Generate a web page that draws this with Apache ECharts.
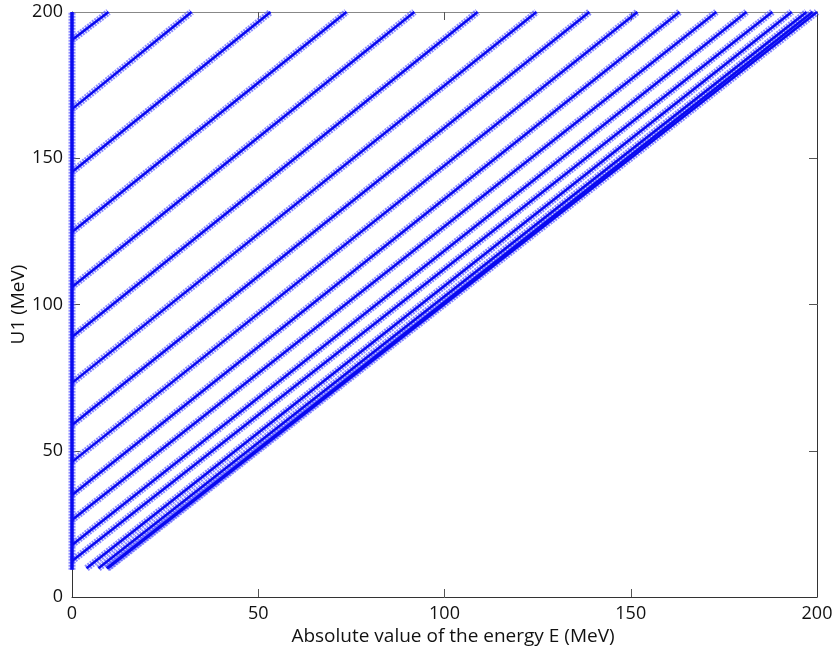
<!DOCTYPE html>
<html>
<head>
<meta charset="utf-8">
<script src="https://cdn.jsdelivr.net/npm/echarts@6/dist/echarts.min.js"></script>
<style>
  html, body { margin: 0; padding: 0; background: #fff; }
  #chart { width: 838px; height: 653px; }
</style>
</head>
<body>
<div id="chart"></div>
<script>
// Solution branches: each branch runs from a start point (E, U1) to an end point.
const startE = [0, 0, 0, 0, 0, 0, 0, 0, 0, 0, 0, 0, 0, 3.9, 7.1, 9.3, 9.6];
const startU = [190.4, 166.8, 145.3, 124.8, 106.0, 88.9, 73.2, 58.8, 46.2, 34.9, 26.3, 17.8, 12.3, 9.8, 9.8, 9.8, 9.8];
const endE = [9.8, 32.1, 53.3, 73.7, 91.9, 108.9, 124.7, 138.9, 151.8, 163.1, 173.0, 181.1, 188.0, 193.2, 197.2, 198.8, 200];
const endU = [200, 200, 200, 200, 200, 200, 200, 200, 200, 200, 200, 200, 200, 200, 200, 200, 200];

// Solutions piled up along E = 0
const zeroBranchU = [9.3, 200];

// Axis ticks
const xTicks = [0, 50, 100, 150, 200];
const yTicks = [0, 50, 100, 150, 200];

const haloColor = 'rgba(90,90,255,0.7)';
const coreColor = '#0a0af0';

const series = [];
function addBranch(points, haloWidth, coreWidth) {
  series.push({
    type: 'line', data: points, showSymbol: false, silent: true, animation: false,
    lineStyle: { color: haloColor, width: haloWidth, type: [2, 1] }, z: 2
  });
  series.push({
    type: 'line', data: points, showSymbol: false, silent: true, animation: false,
    lineStyle: { color: coreColor, width: coreWidth }, z: 3
  });
}
for (let i = 0; i < startE.length; i++) {
  addBranch([[startE[i], startU[i]], [endE[i], endU[i]]], 7, 2.5);
}
addBranch(zeroBranchU.map(u => [0, u]), 7, 3.5);

const font = '"Open Sans", "Noto Sans", sans-serif';
const chart = echarts.init(document.getElementById('chart'));
chart.setOption({
  backgroundColor: '#fff',
  animation: false,
  grid: { left: 72, right: 21, top: 12, bottom: 56, containLabel: false, outerBoundsMode: 'none' },
  xAxis: [{
    type: 'value', min: 0, max: 200, interval: 50,
    name: 'Absolute value of the energy E (MeV)', nameLocation: 'middle', nameGap: 30,
    nameMoveOverlap: false,
    nameTextStyle: { fontFamily: font, fontSize: 19, color: '#111', padding: [0, 0, 0, 17] },
    axisLine: { show: true, onZero: false, lineStyle: { color: '#333', width: 1 } },
    axisTick: { show: true, inside: true, length: 8, lineStyle: { color: '#555' },
      customValues: xTicks.slice(1, -1) },
    axisLabel: { fontFamily: font, fontSize: 18, color: '#111', margin: 8,
      customValues: xTicks },
    splitLine: { show: false }
  }, {
    type: 'value', position: 'top', min: 0, max: 200, interval: 50,
    axisLine: { show: true, onZero: false, lineStyle: { color: '#888', width: 1 } },
    axisTick: { show: true, inside: true, length: 8, lineStyle: { color: '#555' },
      customValues: xTicks.slice(1, -1) },
    axisLabel: { show: false }, splitLine: { show: false }
  }],
  yAxis: [{
    type: 'value', min: 0, max: 200, interval: 50,
    name: 'U1 (MeV)', nameLocation: 'middle', nameGap: 44, nameRotate: 90,
    nameMoveOverlap: false,
    nameTextStyle: { fontFamily: font, fontSize: 19, color: '#111' },
    axisLine: { show: true, onZero: false, lineStyle: { color: '#333', width: 1 } },
    axisTick: { show: true, inside: true, length: 8, lineStyle: { color: '#555' },
      customValues: yTicks.slice(1, -1) },
    axisLabel: { fontFamily: font, fontSize: 18, color: '#111', margin: 9,
      customValues: yTicks },
    splitLine: { show: false }
  }, {
    type: 'value', position: 'right', min: 0, max: 200, interval: 50,
    axisLine: { show: true, onZero: false, lineStyle: { color: '#333', width: 1 } },
    axisTick: { show: true, inside: true, length: 8, lineStyle: { color: '#555' },
      customValues: yTicks.slice(1, -1) },
    axisLabel: { show: false }, splitLine: { show: false }
  }],
  series: series
});
</script>
</body>
</html>
